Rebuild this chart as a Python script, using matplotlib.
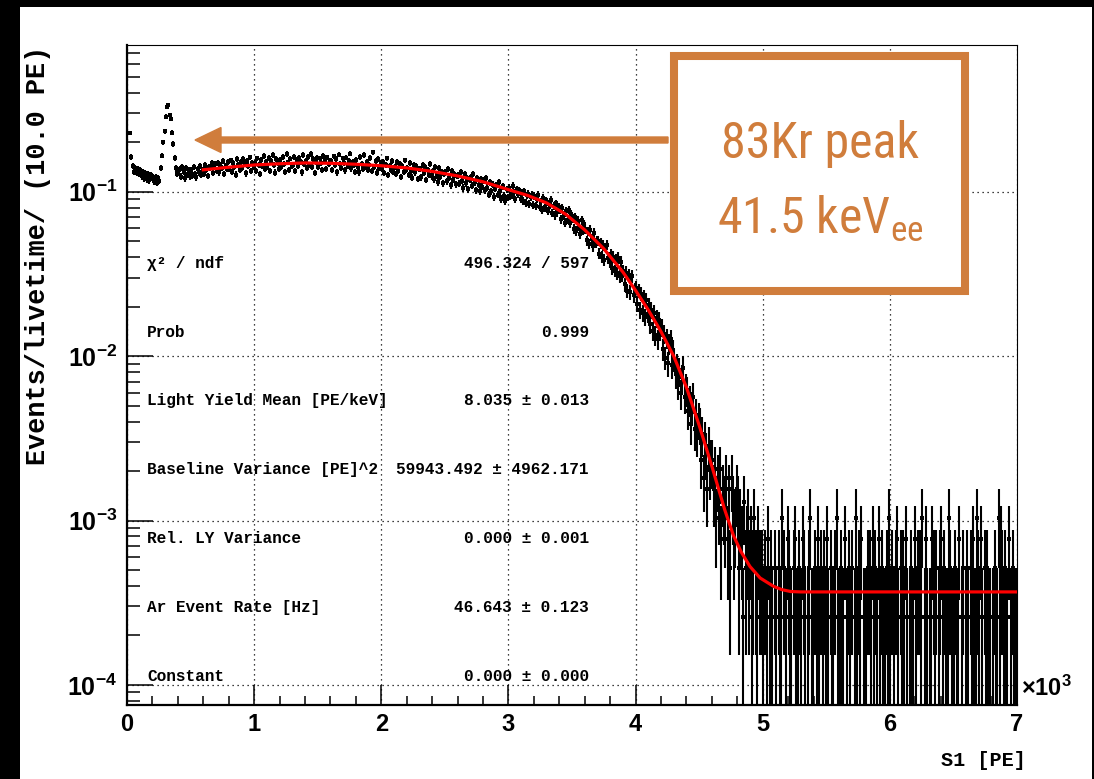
import numpy as np
import matplotlib
matplotlib.use("Agg")
import matplotlib.pyplot as plt
import matplotlib.ticker as ticker
from matplotlib.patches import Rectangle, FancyArrow
from matplotlib.transforms import IdentityTransform

plt.rcParams["mathtext.fontset"] = "custom"
plt.rcParams["mathtext.rm"] = "Liberation Sans:bold"
plt.rcParams["mathtext.bf"] = "Liberation Sans:bold"
plt.rcParams["mathtext.default"] = "bf"

# histogram: counts per 10 PE bin
bin_width = 10.0
rate_per_count = 2.58e-4  # events/livetime for one count (single-count level in the tail)

low_counts = [
    0, 0, 884, 632, 556, 514, 541, 503, 531, 496,
    522, 481, 509, 468, 501, 462, 494, 455, 487, 471,
    473, 449, 478, 441, 469, 452, 543, 643, 775, 903,
    1112, 1279, 1310, 1136, 1078, 888, 756, 620, 537, 498,
    506, 531, 479, 552, 512, 468, 541, 489, 523, 481,
    529, 486, 548, 497, 474, 536, 508, 559, 492, 525,
]
plateau_counts = [
    498, 561, 527, 483, 552, 539, 579, 505, 546, 571,
    520, 583, 509, 566, 538, 597, 497, 560, 531, 588,
    536, 601, 512, 578, 549, 493, 612, 567, 524, 589,
    541, 612, 569, 502, 594, 556, 627, 518, 583, 547,
    582, 521, 618, 566, 497, 603, 554, 641, 532, 588,
    549, 622, 518, 594, 648, 563, 507, 611, 579, 536,
    603, 547, 629, 571, 512, 656, 584, 529, 617, 558,
    566, 634, 521, 602, 553, 626, 589, 508, 651, 572,
    597, 538, 631, 566, 658, 549, 612, 503, 588, 624,
    552, 619, 583, 527, 642, 596, 531, 628, 570, 601,
    593, 526, 637, 564, 611, 508, 652, 575, 541, 618,
    579, 522, 626, 553, 598, 661, 537, 587, 566, 512,
    603, 546, 509, 629, 571, 533, 648, 552, 592, 527,
    561, 623, 518, 672, 549, 594, 507, 615, 538, 581,
    532, 591, 506, 563, 618, 489, 558, 527, 597, 511,
    549, 496, 589, 521, 572, 478, 553, 512, 601, 527,
    542, 491, 581, 517, 472, 566, 508, 553, 463, 531,
    531, 474, 566, 503, 548, 457, 522, 489, 571, 481,
    521, 462, 551, 487, 443, 539, 476, 514, 438, 498,
    507, 448, 533, 471, 425, 516, 459, 494, 432, 483,
    486, 433, 512, 451, 409, 497, 438, 469, 401, 458,
    476, 421, 498, 443, 396, 471, 428, 389, 463, 417,
    452, 396, 468, 411, 372, 443, 389, 427, 361, 405,
    421, 372, 443, 389, 352, 418, 367, 341, 401, 358,
]
falloff_counts = [
    409, 366, 371, 421, 384, 349, 402, 373, 397, 352,
    381, 342, 389, 331, 368, 377, 326, 359, 372, 321,
    366, 318, 349, 372, 314, 339, 302, 355, 311, 344,
    338, 296, 321, 347, 288, 316, 279, 329, 291, 312,
    303, 264, 308, 279, 251, 296, 262, 301, 249, 283,
    268, 231, 273, 224, 259, 238, 215, 261, 226, 247,
    231, 196, 222, 187, 228, 199, 181, 217, 189, 194,
    194, 163, 188, 156, 183, 149, 177, 184, 154, 146,
    161, 133, 156, 128, 150, 124, 154, 119, 145, 121,
    127, 106, 125, 97, 121, 95, 114, 119, 91, 98,
    101, 81, 97, 74, 93, 71, 89, 67, 85, 70,
    79, 61, 74, 55, 71, 52, 66, 49, 64, 55,
    58, 43, 53, 38, 50, 35, 46, 49, 34, 42,
    37, 30, 34, 26, 32, 23, 29, 33, 22, 25,
    24, 18, 21, 15, 19, 22, 14, 17, 13, 16,
    15, 9, 13, 7, 12, 10, 6, 11, 8, 9,
    9, 6, 8, 4, 7, 5, 8, 3, 6, 5,
    4, 7, 3, 6, 2, 7, 5, 3, 4, 6,
    5, 2, 4, 3, 1, 5, 2, 3, 4, 2,
    3, 1, 2, 4, 2, 1, 3, 2, 0, 2,
]
tail_counts = [
    1, 2, 0, 1, 3, 1, 2, 1, 0, 2,
    1, 0, 2, 1, 1, 4, 2, 0, 1, 3,
    2, 1, 1, 0, 2, 3, 1, 1, 2, 0,
    1, 3, 2, 1, 0, 1, 2, 4, 1, 1,
    0, 2, 1, 3, 1, 2, 0, 1, 2, 1,
    3, 1, 0, 2, 1, 1, 2, 0, 4, 1,
    1, 2, 1, 1, 3, 0, 1, 2, 1, 0,
    2, 0, 1, 4, 1, 2, 1, 3, 0, 1,
    1, 1, 2, 0, 2, 1, 3, 1, 2, 1,
    0, 3, 1, 2, 1, 0, 1, 2, 1, 4,
    1, 2, 0, 1, 2, 3, 1, 0, 2, 1,
    2, 1, 3, 1, 0, 1, 2, 1, 1, 3,
    1, 0, 2, 2, 1, 4, 0, 1, 3, 1,
    0, 1, 1, 3, 2, 1, 2, 0, 1, 2,
    3, 1, 2, 0, 1, 1, 4, 2, 1, 0,
    1, 2, 1, 1, 3, 0, 1, 2, 0, 1,
    2, 1, 0, 2, 1, 3, 1, 1, 4, 2,
    1, 3, 1, 0, 2, 1, 2, 1, 1, 0,
    0, 1, 2, 1, 1, 4, 1, 3, 2, 1,
    2, 1, 1, 3, 0, 1, 2, 1, 0, 1,
]

# red fit curve
fit_x = [600, 800, 1000, 1200, 1400, 1600, 1800, 2000, 2200, 2400, 2600, 2800,
         3000, 3150, 3300, 3450, 3600, 3750, 3900, 4000, 4100, 4200, 4300, 4400,
         4500, 4600, 4700, 4770, 4830, 4900, 4980, 5085, 5150, 5220, 5300, 7000]
fit_y = [0.136, 0.141, 0.1455, 0.148, 0.1497, 0.149, 0.147, 0.144, 0.1396, 0.133,
         0.1248, 0.115, 0.103, 0.095, 0.0855, 0.073, 0.0586, 0.045, 0.0325, 0.0251,
         0.0191, 0.0141, 0.0100, 0.00646, 0.0038, 0.00214, 0.00117, 8.1e-4, 6.45e-4,
         5.25e-4, 4.47e-4, 3.98e-4, 3.80e-4, 3.70e-4, 3.68e-4, 3.68e-4]

stat_names = ["\u03c7\u00b2 / ndf", "Prob", "Light Yield Mean [PE/keV]",
              "Baseline Variance [PE]^2", "Rel. LY Variance", "Ar Event Rate [Hz]",
              "Constant"]
stat_values = ["496.324 / 597", "0.999", "8.035 \u00b1 0.013",
               "59943.492 \u00b1 4962.171", "0.000 \u00b1 0.001",
               "46.643 \u00b1 0.123", "0.000 \u00b1 0.000"]

W, H = 1094, 779
ORANGE = "#D07D3C"
MONO = ["Liberation Mono", "DejaVu Sans Mono"]


def fpx(x, y):
    return x / W, 1 - y / H


fig = plt.figure(figsize=(W / 100, H / 100), dpi=100, facecolor="black")
fig.add_artist(Rectangle((20 / W, 0), (1092 - 20) / W, (H - 7) / H,
                         transform=fig.transFigure, facecolor="white",
                         edgecolor="none", zorder=-10))
ax = fig.add_axes([127 / W, (H - 705) / H, (1017 - 127) / W, (705 - 45) / H])

counts = np.array(low_counts + plateau_counts + falloff_counts + tail_counts, dtype=float)
x = bin_width * (np.arange(len(counts)) + 0.5)
rate = counts * rate_per_count
err = np.sqrt(counts) * rate_per_count
m = counts > 0
lo = np.maximum(rate - err, 1e-6)

ax.vlines(x[m], lo[m], (rate + err)[m], color="black", lw=1.5, zorder=3)
ax.hlines(rate[m], x[m] - bin_width / 2, x[m] + bin_width / 2, color="black", lw=1.5, zorder=3)
ax.plot(x[m], rate[m], "s", ms=2.6, color="black", mew=0, zorder=3)
ax.plot(fit_x, fit_y, color="red", lw=2.3, zorder=5)

ax.set_yscale("log")
ax.set_xlim(0, 7000)
ax.set_ylim(7.55e-5, 0.781)

ax.xaxis.set_major_locator(ticker.MultipleLocator(1000))
ax.xaxis.set_minor_locator(ticker.MultipleLocator(200))
ax.xaxis.set_major_formatter(ticker.FuncFormatter(lambda v, p: "%d" % round(v / 1000)))
ax.yaxis.set_major_locator(ticker.FixedLocator([1e-4, 1e-3, 1e-2, 1e-1]))
ax.yaxis.set_minor_locator(ticker.LogLocator(base=10, subs=np.arange(2, 10), numticks=20))
ax.yaxis.set_major_formatter(ticker.FuncFormatter(lambda v, p: r"$10^{%d}$" % round(np.log10(v))))
ax.yaxis.set_minor_formatter(ticker.NullFormatter())

ax.tick_params(which="both", direction="in", top=False, right=False, width=1.1, colors="black")
ax.tick_params(axis="y", which="major", length=18.7, pad=7, labelsize=18)
ax.tick_params(axis="y", which="minor", length=9.4)
ax.tick_params(axis="x", which="major", length=14.4, pad=5.5, labelsize=17)
ax.tick_params(axis="x", which="minor", length=6.5)
for lab in ax.get_xticklabels():
    lab.set_fontfamily("Liberation Sans")
    lab.set_fontweight("bold")

ax.grid(True, which="major", color="black", linestyle=(0, (1, 3)), lw=0.9)
ax.set_axisbelow(True)
for side in ["left", "bottom"]:
    ax.spines[side].set_linewidth(1.6)
for side in ["top", "right"]:
    ax.spines[side].set_linewidth(0.8)

# axis titles
fig.text(*fpx(38, 255), "Events/livetime/ (10.0 PE)", rotation=90, ha="center", va="center",
         family=MONO, weight="bold", size=19.4)
fig.text(*fpx(1026, 760), "S1 [PE]", ha="right", va="center", family=MONO, weight="bold", size=14.5)
fig.text(*fpx(1021, 688), r"$\times10^{3}$", ha="left", va="center", size=17)

# fit statistics
stat_base = [268, 337, 405, 474, 543, 612, 681]
for name, val, yb in zip(stat_names, stat_values, stat_base):
    fig.text(*fpx(147, yb), name, ha="left", va="baseline", family=MONO, weight="bold", size=11.6)
    fig.text(*fpx(589, yb), val, ha="right", va="baseline", family=MONO, weight="bold", size=11.6)

# annotation box and arrow
ax.add_patch(Rectangle((0.6146, 0.627), 0.327, 0.356, transform=ax.transAxes,
                       facecolor="white", edgecolor=ORANGE, lw=5.8, zorder=6, clip_on=False))
fig.add_artist(FancyArrow(668, H - 140, -(668 - 195), 0, width=6, head_width=25,
                          head_length=26, length_includes_head=True, color=ORANGE,
                          transform=IdentityTransform(), zorder=7))
narrow = ["Roboto Condensed", "Noto Sans Condensed", "Open Sans Condensed",
          "Liberation Sans Narrow", "DejaVu Sans Condensed", "Roboto", "DejaVu Sans"]
fig.text(*fpx(820, 158), "83Kr peak", ha="center", va="baseline", color=ORANGE,
         family=narrow, stretch="condensed", size=36, zorder=8)
fig.text(*fpx(820, 234), r"41.5 keV$_\mathregular{ee}$", ha="center", va="baseline",
         color=ORANGE, family=narrow, stretch="condensed", size=36, zorder=8)

fig.savefig("out.png", dpi=100, facecolor=fig.get_facecolor())
